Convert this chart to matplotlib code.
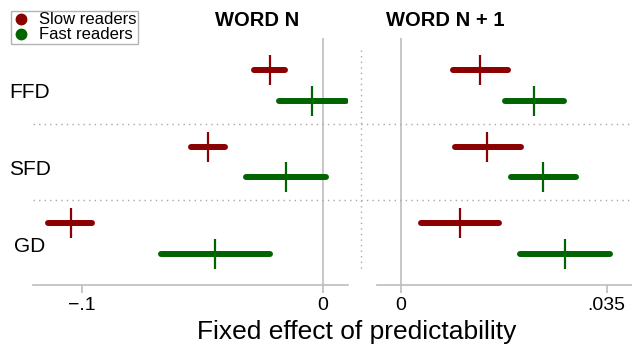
import matplotlib
matplotlib.use("Agg")
import matplotlib.pyplot as plt
from matplotlib.lines import Line2D
import matplotlib.transforms as mtransforms

plt.rcParams['font.family'] = ['Liberation Sans', 'DejaVu Sans']

# ---- data ----
measures = ["FFD", "SFD", "GD"]
groups = ["Slow readers", "Fast readers"]
panel_titles = ["WORD N", "WORD N + 1"]

# Word N
n_slow_est = [-0.0220, -0.0479, -0.1047]
n_slow_lo = [-0.0285, -0.0549, -0.1140]
n_slow_hi = [-0.0158, -0.0405, -0.0960]
n_fast_est = [-0.0044, -0.0154, -0.0448]
n_fast_lo = [-0.0184, -0.0321, -0.0674]
n_fast_hi = [0.0094, 0.0014, -0.0218]

# Word N + 1
n1_slow_est = [0.0135, 0.0147, 0.0100]
n1_slow_lo = [0.0088, 0.0092, 0.0034]
n1_slow_hi = [0.0183, 0.0205, 0.0167]
n1_fast_est = [0.0227, 0.0241, 0.0279]
n1_fast_lo = [0.0177, 0.0187, 0.0202]
n1_fast_hi = [0.0278, 0.0298, 0.0356]

left_ticks = [-0.1, 0]
left_ticklabels = ["\u2212.1", "0"]
right_ticks = [0, 0.035]
right_ticklabels = ["0", ".035"]

colors = ["#8b0000", "#006400"]
grey = "#bdbdbd"

W, H = 632, 350
fig = plt.figure(figsize=(W / 100, H / 100), dpi=100)

def px_axes(x0, x1, y0, y1):
    return fig.add_axes([x0 / W, 1 - y1 / H, (x1 - x0) / W, (y1 - y0) / H])

axL = px_axes(33, 348, 38, 285)
axR = px_axes(377, 632, 38, 285)

offset = 0.2
panels = [
    (axL, [(n_slow_est, n_slow_lo, n_slow_hi), (n_fast_est, n_fast_lo, n_fast_hi)],
     (-0.1203, 0.01037), left_ticks, left_ticklabels),
    (axR, [(n1_slow_est, n1_slow_lo, n1_slow_hi), (n1_fast_est, n1_fast_lo, n1_fast_hi)],
     (-0.00403, 0.0393), right_ticks, right_ticklabels),
]

for ax, series, xlim, ticks, ticklabels in panels:
    ax.axvline(0, color=grey, lw=1.2, zorder=1)
    for gi, (est, lo, hi) in enumerate(series):
        ys = [k + (-offset if gi == 0 else offset) for k in range(len(measures))]
        ax.hlines(ys, lo, hi, colors=colors[gi], linewidth=4.3,
                  capstyle='round', zorder=3)
        ax.plot(est, ys, linestyle='none', marker='|', markersize=22,
                markeredgewidth=1.6, color=colors[gi], zorder=4)
    ax.set_xlim(*xlim)
    ax.set_ylim(2.607, -0.617)
    ax.set_yticks([])
    for s in ["top", "left", "right"]:
        ax.spines[s].set_visible(False)
    ax.spines["bottom"].set_color(grey)
    ax.spines["bottom"].set_linewidth(1.2)
    ax.set_xticks(ticks)
    ax.set_xticklabels(ticklabels)
    ax.tick_params(axis='x', direction='out', length=6, width=1.2, color=grey,
                   labelsize=14, pad=3, labelcolor='black')
    ax.patch.set_visible(False)

# horizontal dotted separators across both panels
tr = mtransforms.blended_transform_factory(fig.transFigure, axL.transData)
for yv in [0.5, 1.5]:
    fig.add_artist(Line2D([33 / W, 632 / W], [yv, yv], transform=tr,
                          color="#a8a8a8", lw=1.0, linestyle=(0, (1, 3))))
# vertical dotted separator
fig.add_artist(Line2D([361 / W, 361 / W], [1 - 50 / H, 1 - 272 / H],
                      transform=fig.transFigure, color="#a8a8a8", lw=1.0,
                      linestyle=(0, (1, 3))))

# category labels
for k, m in enumerate(measures):
    fig.text(30 / W, k + 0.1, m, transform=tr, ha='center', va='center', fontsize=15)

# panel titles
fig.text(257 / W, 1 - 20 / H, panel_titles[0], ha='center', va='center',
         fontsize=14.5, fontweight='bold')
fig.text(445 / W, 1 - 20 / H, panel_titles[1], ha='center', va='center',
         fontsize=14.5, fontweight='bold')

# x label
fig.text(356.5 / W, 1 - 332 / H, "Fixed effect of predictability",
         ha='center', va='center', fontsize=19)

# legend
handles = [Line2D([], [], linestyle='none', marker='o', markersize=7.5,
                  color=c) for c in colors]
leg = fig.legend(handles, groups, loc='upper left',
                 bbox_to_anchor=(11 / W, 1 - 11 / H), borderaxespad=0,
                 fontsize=12, frameon=True, fancybox=False,
                 edgecolor="#a0a0a0", handlelength=1.0, handletextpad=0.6,
                 borderpad=0.08, labelspacing=0.0)
leg.get_frame().set_linewidth(1.0)

fig.savefig("out.png", dpi=100)
